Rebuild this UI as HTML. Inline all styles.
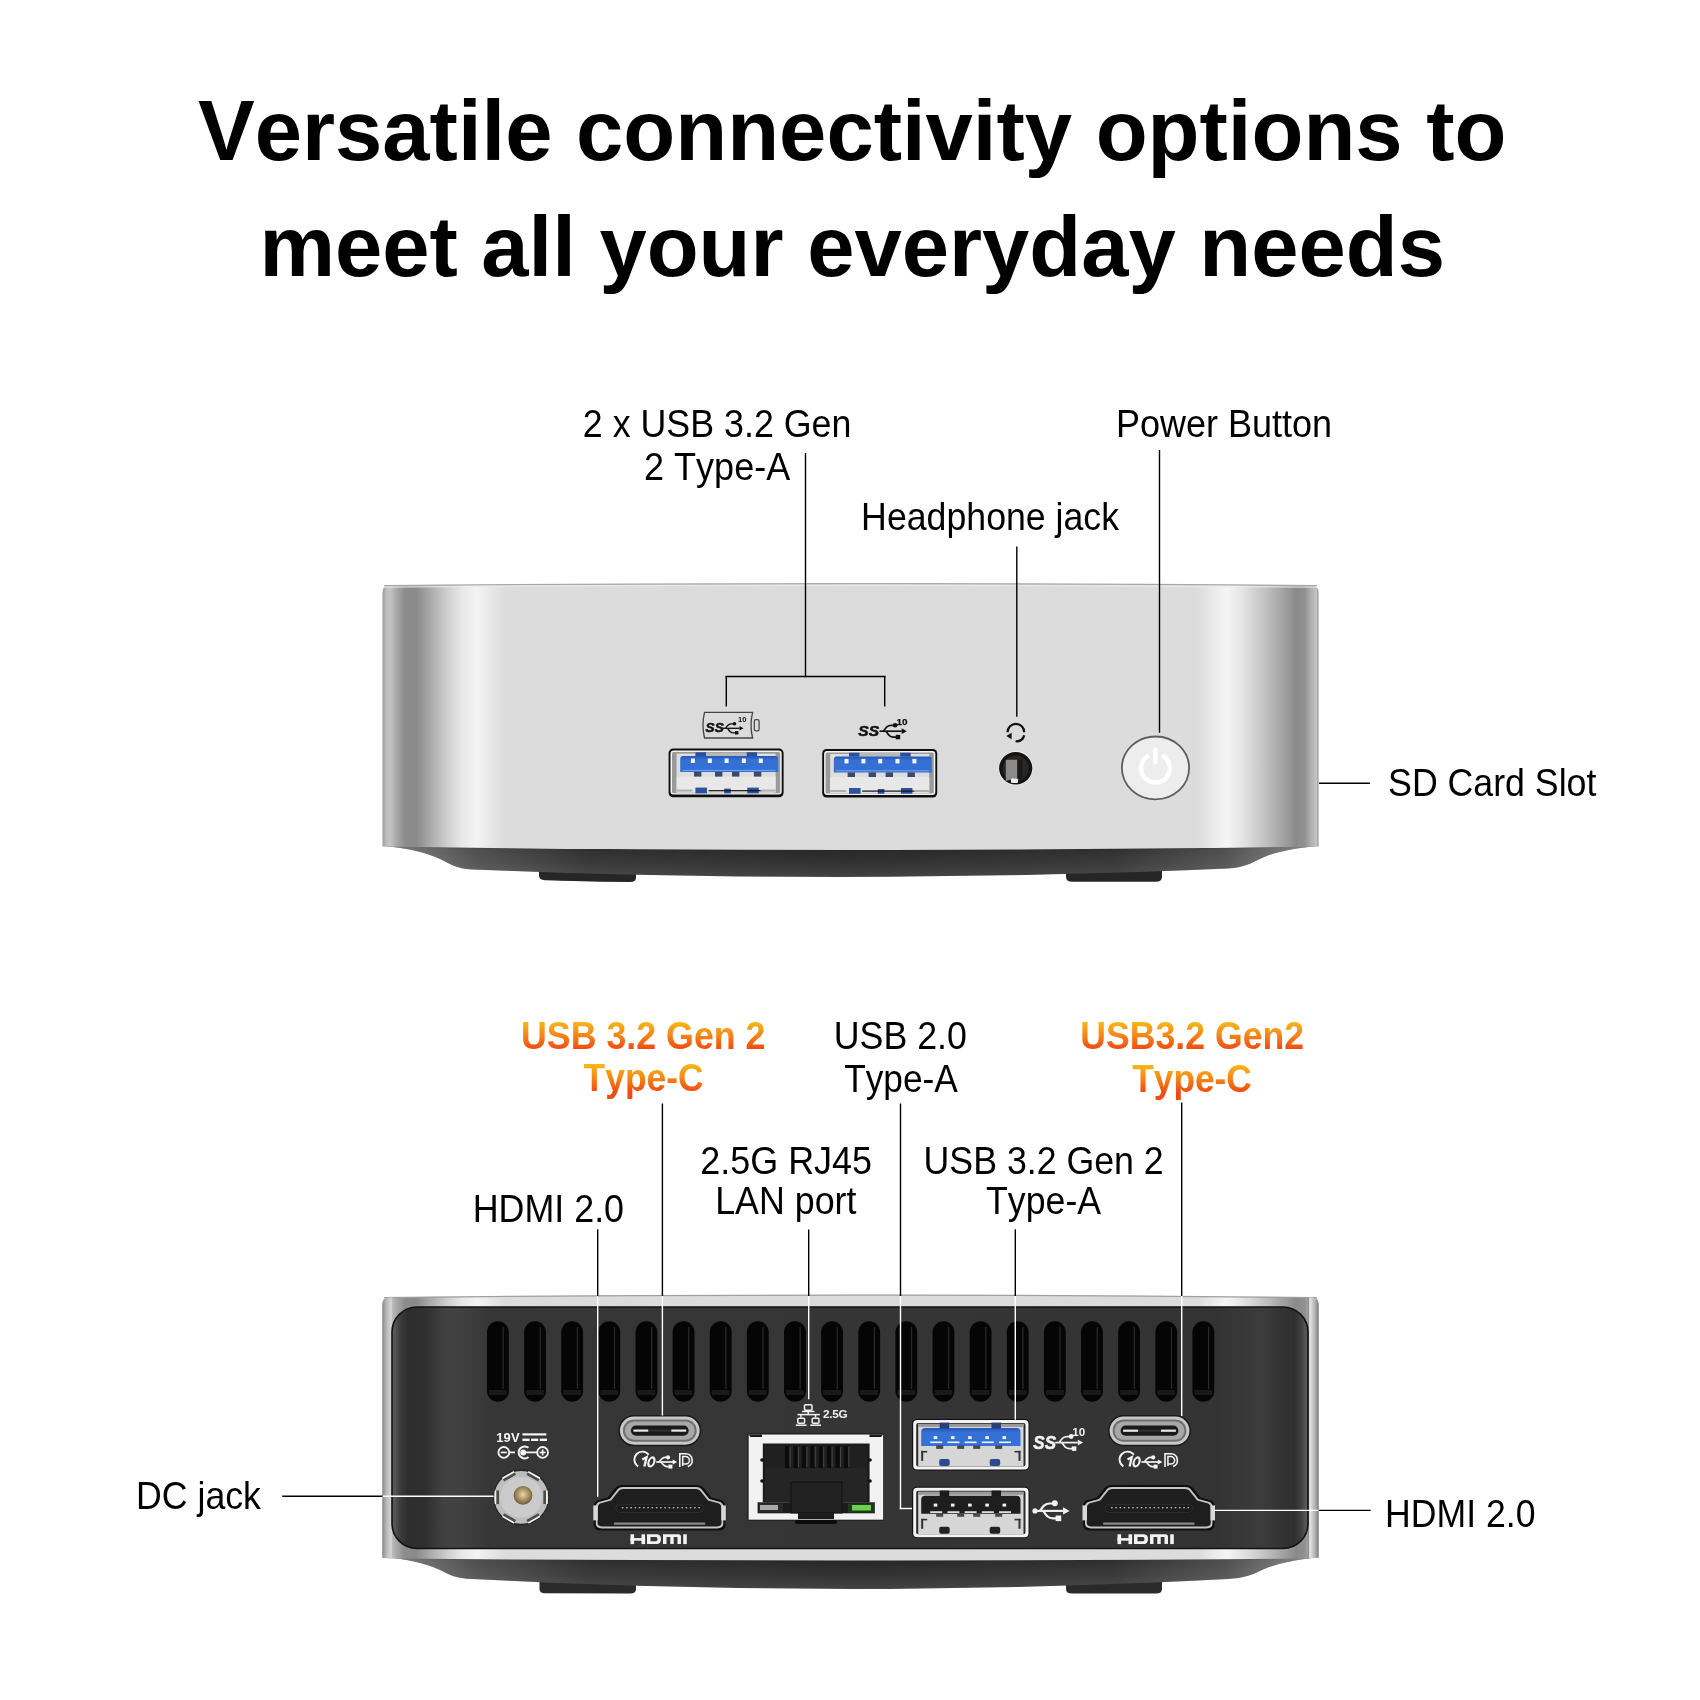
<!DOCTYPE html>
<html><head><meta charset="utf-8"><style>
html,body{margin:0;padding:0;background:#fff;width:1700px;height:1700px;overflow:hidden}
svg{position:absolute;left:0;top:0;will-change:transform;font-kerning:none;font-family:"Liberation Sans",sans-serif}
</style></head><body>
<svg width="1700" height="1700" viewBox="0 0 1700 1700">
<defs>
<linearGradient id="og0" gradientUnits="userSpaceOnUse" x1="0" y1="-24.77" x2="0" y2="0"><stop offset="0" stop-color="#f5b818"/><stop offset="0.5" stop-color="#f68416"/><stop offset="1" stop-color="#f04c12"/></linearGradient>
<linearGradient id="og1" gradientUnits="userSpaceOnUse" x1="0" y1="-24.77" x2="0" y2="0"><stop offset="0" stop-color="#f5b818"/><stop offset="0.5" stop-color="#f68416"/><stop offset="1" stop-color="#f04c12"/></linearGradient>
<linearGradient id="og2" gradientUnits="userSpaceOnUse" x1="0" y1="-24.77" x2="0" y2="0"><stop offset="0" stop-color="#f5b818"/><stop offset="0.5" stop-color="#f68416"/><stop offset="1" stop-color="#f04c12"/></linearGradient>
<linearGradient id="og3" gradientUnits="userSpaceOnUse" x1="0" y1="-24.77" x2="0" y2="0"><stop offset="0" stop-color="#f5b818"/><stop offset="0.5" stop-color="#f68416"/><stop offset="1" stop-color="#f04c12"/></linearGradient>
</defs>
<defs>
<linearGradient id="silverTop" gradientUnits="userSpaceOnUse" x1="382.5" y1="0" x2="1318.5" y2="0">
 <stop offset="0" stop-color="#9c9c9c"/>
 <stop offset="0.004" stop-color="#bcbcbc"/>
 <stop offset="0.008" stop-color="#c4c4c4"/>
 <stop offset="0.015" stop-color="#a8a8a8"/>
 <stop offset="0.024" stop-color="#8c8c8c"/>
 <stop offset="0.036" stop-color="#8a8a8a"/>
 <stop offset="0.049" stop-color="#a6a6a6"/>
 <stop offset="0.07" stop-color="#d0d0d0"/>
 <stop offset="0.085" stop-color="#e8e8e8"/>
 <stop offset="0.101" stop-color="#f3f3f3"/>
 <stop offset="0.115" stop-color="#e8e8e8"/>
 <stop offset="0.131" stop-color="#dcdcdc"/>
 <stop offset="0.5" stop-color="#dbdbdb"/>
 <stop offset="0.871" stop-color="#dcdcdc"/>
 <stop offset="0.888" stop-color="#eaeaea"/>
 <stop offset="0.902" stop-color="#f5f5f5"/>
 <stop offset="0.920" stop-color="#e2e2e2"/>
 <stop offset="0.944" stop-color="#c0c0c0"/>
 <stop offset="0.967" stop-color="#9a9a9a"/>
 <stop offset="0.976" stop-color="#8a8a8a"/>
 <stop offset="0.985" stop-color="#909090"/>
 <stop offset="0.992" stop-color="#b0b0b0"/>
 <stop offset="0.998" stop-color="#c4c4c4"/>
 <stop offset="1" stop-color="#8a8a8a"/>
</linearGradient>
<linearGradient id="baseG" x1="0" y1="0" x2="0" y2="1">
 <stop offset="0" stop-color="#1a1a1a"/>
 <stop offset="0.15" stop-color="#242424"/>
 <stop offset="0.55" stop-color="#2e2e2e"/>
 <stop offset="0.9" stop-color="#3a3a3a"/>
 <stop offset="1" stop-color="#404040"/>
</linearGradient>
<linearGradient id="baseH" gradientUnits="userSpaceOnUse" x1="382.5" y1="0" x2="1318.5" y2="0">
 <stop offset="0" stop-color="#fff" stop-opacity="0.45"/>
 <stop offset="0.1" stop-color="#fff" stop-opacity="0.2"/>
 <stop offset="0.22" stop-color="#fff" stop-opacity="0.06"/>
 <stop offset="0.5" stop-color="#fff" stop-opacity="0.02"/>
 <stop offset="0.78" stop-color="#fff" stop-opacity="0.06"/>
 <stop offset="0.9" stop-color="#fff" stop-opacity="0.2"/>
 <stop offset="1" stop-color="#fff" stop-opacity="0.5"/>
</linearGradient>
<linearGradient id="panelG" gradientUnits="userSpaceOnUse" x1="392" y1="0" x2="1308" y2="0">
 <stop offset="0.0000" stop-color="#5a5a5a"/>
 <stop offset="0.0033" stop-color="#555555"/>
 <stop offset="0.0087" stop-color="#3c3c3c"/>
 <stop offset="0.0175" stop-color="#2d2d2d"/>
 <stop offset="0.0360" stop-color="#2f2f2f"/>
 <stop offset="0.0579" stop-color="#424242"/>
 <stop offset="0.0797" stop-color="#404040"/>
 <stop offset="0.1070" stop-color="#363636"/>
 <stop offset="0.5000" stop-color="#353535"/>
 <stop offset="0.8996" stop-color="#333333"/>
 <stop offset="0.9498" stop-color="#3c3c3c"/>
 <stop offset="0.9716" stop-color="#333333"/>
 <stop offset="0.9847" stop-color="#2f2f2f"/>
 <stop offset="0.9913" stop-color="#3c3c3c"/>
 <stop offset="0.9989" stop-color="#5c5c5c"/>
 <stop offset="1.0000" stop-color="#444444"/>
</linearGradient>
<linearGradient id="sideL" x1="0" y1="0" x2="1" y2="0">
 <stop offset="0" stop-color="#808080"/><stop offset="0.12" stop-color="#9a9a9a"/><stop offset="0.37" stop-color="#b4b4b4"/><stop offset="0.6" stop-color="#c6c6c6"/><stop offset="0.9" stop-color="#d4d4d4"/><stop offset="1" stop-color="#c4c4c4"/>
</linearGradient>
<linearGradient id="sideR" x1="0" y1="0" x2="1" y2="0">
 <stop offset="0" stop-color="#5a5a5a"/><stop offset="0.12" stop-color="#d8d8d8"/><stop offset="0.2" stop-color="#e4e4e4"/><stop offset="0.45" stop-color="#c8c8c8"/><stop offset="0.75" stop-color="#a8a8a8"/><stop offset="0.92" stop-color="#888888"/><stop offset="1" stop-color="#7a7a7a"/>
</linearGradient>
<linearGradient id="silverBot" gradientUnits="userSpaceOnUse" x1="382.5" y1="0" x2="1318.5" y2="0">
 <stop offset="0" stop-color="#8c8c8c"/>
 <stop offset="0.003" stop-color="#b8b8b8"/>
 <stop offset="0.008" stop-color="#cfcfcf"/>
 <stop offset="0.03" stop-color="#bdbdbd"/>
 <stop offset="0.06" stop-color="#d8d8d8"/>
 <stop offset="0.1" stop-color="#c4c4c4"/>
 <stop offset="0.2" stop-color="#d6d6d6"/>
 <stop offset="0.3" stop-color="#e2e2e2"/>
 <stop offset="0.5" stop-color="#e6e6e6"/>
 <stop offset="0.7" stop-color="#e0e0e0"/>
 <stop offset="0.85" stop-color="#d8d8d8"/>
 <stop offset="0.93" stop-color="#c8c8c8"/>
 <stop offset="0.97" stop-color="#d0d0d0"/>
 <stop offset="0.993" stop-color="#b8b8b8"/>
 <stop offset="1" stop-color="#8a8a8a"/>
</linearGradient>
<linearGradient id="blueT" x1="0" y1="0" x2="0" y2="1">
 <stop offset="0" stop-color="#2656b8"/>
 <stop offset="0.25" stop-color="#3570d4"/>
 <stop offset="1" stop-color="#3470d6"/>
</linearGradient>
<radialGradient id="btnG" cx="0.5" cy="0.5" r="0.5">
 <stop offset="0" stop-color="#ececec"/>
 <stop offset="1" stop-color="#f0f0f0"/>
</radialGradient>
<radialGradient id="goldG" cx="0.5" cy="0.45" r="0.55">
 <stop offset="0" stop-color="#e8d8a8"/>
 <stop offset="0.5" stop-color="#b09868"/>
 <stop offset="1" stop-color="#6a5a3a"/>
</radialGradient>
</defs>
<path d="M539,862 L636,862 L636,877.5 Q636,882 630,882 L600,881.8 Q560,880.6 545,880.2 Q539,880 539,875.5 Z" fill="#262626"/>
<path d="M1066,862 L1162,862 L1162,876.5 Q1162,881.8 1156,881.8 L1072,881.8 Q1066,881.8 1066,876.5 Z" fill="#262626"/>
<path d="M383,846 C405,847.5 425,852 440,859 C450,864 456,868.5 472,869.5 Q850,885 1228,868.5 C1244,867.5 1252,863 1262,858 C1277,851 1297,848 1318,846 Z" fill="url(#baseG)"/>
<path d="M383,846 C405,847.5 425,852 440,859 C450,864 456,868.5 472,869.5 Q850,885 1228,868.5 C1244,867.5 1252,863 1262,858 C1277,851 1297,848 1318,846 Z" fill="url(#baseH)"/>
<path d="M382.5,846.5 L382.5,592 Q382.5,585.5 389,585.3 Q850,581.5 1312,585.3 Q1318.5,585.5 1318.5,592 L1318.5,846.5 Q850,853.5 382.5,846.5 Z" fill="url(#silverTop)"/>
<path d="M384,585.6 Q850,581.8 1317,585.6" fill="none" stroke="#a8a8a8" stroke-width="1.2"/>
<path d="M384,587.2 Q850,583.4 1317,587.2" fill="none" stroke="#ececec" stroke-width="1.2" opacity="0.8"/>
<rect x="668.6" y="748.6" width="115" height="48.6" rx="4.5" fill="#0e0e0e"/>
<rect x="670.5" y="750.5" width="111.2" height="44.0" rx="3" fill="#f4f4f4"/>
<rect x="672.0" y="752.0" width="108.2" height="41.2" rx="1.5" fill="#9a9a9a"/>
<rect x="676.6" y="753.6" width="99" height="39.1" fill="#dedede"/>
<rect x="676.6" y="776.6" width="99" height="15.600000000000001" fill="#e8e8e8"/>
<rect x="695.4" y="752.3000000000001" width="10.6" height="4" fill="#2c4f9a"/>
<rect x="746.5" y="752.3000000000001" width="10.6" height="4" fill="#2c4f9a"/>
<rect x="706.0" y="752.6" width="40.5" height="3.5" fill="#b8b8b8"/>
<path d="M680.2,772.0 L680.2,759.0 Q680.2,756.0 683.2,756.0 L775.2,756.0 Q778.2,756.0 778.2,759.0 L778.2,772.0 Z" fill="url(#blueT)"/>
<rect x="690.9" y="758.5" width="4" height="4.5" fill="#f4f8ff"/>
<rect x="707.8000000000001" y="758.5" width="4" height="4.5" fill="#f4f8ff"/>
<rect x="724.6" y="758.5" width="4" height="4.5" fill="#f4f8ff"/>
<rect x="741.9" y="758.5" width="4" height="4.5" fill="#f4f8ff"/>
<rect x="758.8000000000001" y="758.5" width="4" height="4.5" fill="#f4f8ff"/>
<rect x="682.6" y="769.9" width="93" height="1" fill="#8fb0ec" opacity="0.8"/>
<rect x="694.0" y="772.0" width="7.4" height="4.6" fill="#3a4a68"/>
<rect x="715.0" y="772.0" width="7.4" height="4.6" fill="#3a4a68"/>
<rect x="732.0" y="772.0" width="7.4" height="4.6" fill="#3a4a68"/>
<rect x="753.9" y="772.0" width="7.4" height="4.6" fill="#3a4a68"/>
<rect x="695.4" y="787.6" width="11.6" height="5.8" fill="#3050a0"/>
<rect x="724.2" y="788.6" width="6.6" height="4.8" fill="#3050a0"/>
<rect x="747.3000000000001" y="787.6" width="11.5" height="5.8" fill="#3050a0"/>
<rect x="708.6" y="790.1" width="53" height="1.2" fill="#111"/>
<rect x="676.6" y="789.6" width="16" height="2" fill="#b0b0b0"/>
<rect x="760.6" y="789.6" width="15" height="2" fill="#b0b0b0"/>
<rect x="822.2" y="749.0" width="115" height="48.6" rx="4.5" fill="#0e0e0e"/>
<rect x="824.1" y="750.9" width="111.2" height="44.0" rx="3" fill="#f4f4f4"/>
<rect x="825.6" y="752.4" width="108.2" height="41.2" rx="1.5" fill="#9a9a9a"/>
<rect x="830.2" y="754.0" width="99" height="39.1" fill="#dedede"/>
<rect x="830.2" y="777.0" width="99" height="15.600000000000001" fill="#e8e8e8"/>
<rect x="849.0" y="752.7" width="10.6" height="4" fill="#2c4f9a"/>
<rect x="900.1" y="752.7" width="10.6" height="4" fill="#2c4f9a"/>
<rect x="859.6" y="753.0" width="40.5" height="3.5" fill="#b8b8b8"/>
<path d="M833.8000000000001,772.4 L833.8000000000001,759.4 Q833.8000000000001,756.4 836.8000000000001,756.4 L928.8000000000001,756.4 Q931.8000000000001,756.4 931.8000000000001,759.4 L931.8000000000001,772.4 Z" fill="url(#blueT)"/>
<rect x="844.5" y="758.9" width="4" height="4.5" fill="#f4f8ff"/>
<rect x="861.4000000000001" y="758.9" width="4" height="4.5" fill="#f4f8ff"/>
<rect x="878.2" y="758.9" width="4" height="4.5" fill="#f4f8ff"/>
<rect x="895.5" y="758.9" width="4" height="4.5" fill="#f4f8ff"/>
<rect x="912.4000000000001" y="758.9" width="4" height="4.5" fill="#f4f8ff"/>
<rect x="836.2" y="770.3" width="93" height="1" fill="#8fb0ec" opacity="0.8"/>
<rect x="847.6" y="772.4" width="7.4" height="4.6" fill="#3a4a68"/>
<rect x="868.6" y="772.4" width="7.4" height="4.6" fill="#3a4a68"/>
<rect x="885.6" y="772.4" width="7.4" height="4.6" fill="#3a4a68"/>
<rect x="907.5" y="772.4" width="7.4" height="4.6" fill="#3a4a68"/>
<rect x="849.0" y="788.0" width="11.6" height="5.8" fill="#3050a0"/>
<rect x="877.8000000000001" y="789.0" width="6.6" height="4.8" fill="#3050a0"/>
<rect x="900.9000000000001" y="788.0" width="11.5" height="5.8" fill="#3050a0"/>
<rect x="862.2" y="790.5" width="53" height="1.2" fill="#111"/>
<rect x="830.2" y="790.0" width="16" height="2" fill="#b0b0b0"/>
<rect x="914.2" y="790.0" width="15" height="2" fill="#b0b0b0"/>
<path d="M704.5,712.3 L752.6,712.3 Q749.5,725 752.6,738 L704.5,738 Q701.5,725 704.5,712.3 Z" fill="none" stroke="#444" stroke-width="1.3"/>
<rect x="754.3" y="719.6" width="4.8" height="11.2" rx="1.6" fill="none" stroke="#444" stroke-width="1.2"/>
<text transform="translate(705.6,732.4) scale(1.02,1)" font-size="13.3" font-weight="bold" font-style="italic" fill="#111" stroke="#111" stroke-width="0.55">SS</text>
<g transform="translate(722.5,728.3) scale(1.0)" fill="#111" stroke="#111"><path d="M0,0 L17,0" stroke-width="1.3" fill="none"/><path d="M17,-2.2 L21,0 L17,2.2 Z" stroke="none"/><path d="M3,0 C5,-3 6,-4.5 9,-4.5 L11,-4.5" stroke-width="1.3" fill="none"/><circle cx="12" cy="-4.6" r="1.8" stroke="none"/><path d="M5,0 C7,3 8,4.5 11,4.5 L13,4.5" stroke-width="1.3" fill="none"/><rect x="12.5" y="2.8" width="3.4" height="3.4" stroke="none"/></g>
<text x="738" y="722.4" font-size="7.6" font-weight="bold" fill="#111">10</text>
<text transform="translate(858.3,736.1) scale(1.08,1)" font-size="14.4" font-weight="bold" font-style="italic" fill="#111" stroke="#111" stroke-width="0.55">SS</text>
<g transform="translate(879.5,731.2) scale(1.3)" fill="#111" stroke="#111"><path d="M0,0 L17,0" stroke-width="1.3" fill="none"/><path d="M17,-2.2 L21,0 L17,2.2 Z" stroke="none"/><path d="M3,0 C5,-3 6,-4.5 9,-4.5 L11,-4.5" stroke-width="1.3" fill="none"/><circle cx="12" cy="-4.6" r="1.8" stroke="none"/><path d="M5,0 C7,3 8,4.5 11,4.5 L13,4.5" stroke-width="1.3" fill="none"/><rect x="12.5" y="2.8" width="3.4" height="3.4" stroke="none"/></g>
<text x="896.4" y="725.1" font-size="9.9" font-weight="bold" fill="#111" stroke="#111" stroke-width="0.25">10</text>
<circle cx="1015.7" cy="768.2" r="17.4" fill="#f2f2f2" opacity="0.6"/>
<ellipse cx="1015.7" cy="768.2" rx="16.6" ry="16.2" fill="#141414"/>
<ellipse cx="1015.7" cy="768.2" rx="13" ry="12.8" fill="#2a2620"/>
<path d="M1005.8,759.8 L1017.4,759.8 L1017.4,778 L1005.8,781 Z" fill="#8a8a8a"/>
<rect x="1017.4" y="759.8" width="5" height="19" fill="#1a1a1a"/>
<rect x="1011" y="778.5" width="7" height="4.5" rx="1" fill="#f0f0f0"/>
<path d="M1007.6,732.2 A8.3,8.3 0 0 1 1024.2,732.2" fill="none" stroke="#111" stroke-width="2.2"/>
<path d="M1024.2,735.2 A7.4,7.4 0 0 1 1015.6,741.2" fill="none" stroke="#111" stroke-width="2.2"/>
<path d="M1006.3,736 L1011.6,732.8 L1011.6,739.2 Z" fill="#111"/>
<ellipse cx="1155.5" cy="767.9" rx="33.6" ry="31.4" fill="#ededed" stroke="#5e5e5e" stroke-width="1.8"/>
<path d="M1147.2,756.4 A14.4,14.4 0 1 0 1163.8,756.4" fill="none" stroke="#fff" stroke-width="4.4" stroke-linecap="round"/>
<line x1="1155.3" y1="749.4" x2="1155.3" y2="762.4" stroke="#fff" stroke-width="4.4" stroke-linecap="round"/>
<line x1="805.5" y1="453" x2="805.5" y2="677.3" stroke="#000" stroke-width="1.4"/>
<line x1="725.5" y1="676.5" x2="885.5" y2="676.5" stroke="#000" stroke-width="1.4"/>
<line x1="726.3" y1="676" x2="726.3" y2="706.6" stroke="#000" stroke-width="1.4"/>
<line x1="884.7" y1="676" x2="884.7" y2="706.6" stroke="#000" stroke-width="1.4"/>
<line x1="1016.8" y1="546.5" x2="1016.8" y2="716.8" stroke="#000" stroke-width="1.4"/>
<line x1="1159.5" y1="450" x2="1159.5" y2="732.7" stroke="#000" stroke-width="1.4"/>
<line x1="1319" y1="783.3" x2="1370" y2="783.3" stroke="#000" stroke-width="1.4"/>
<path d="M539.5,1575 L636,1575 L636,1589 Q636,1593.5 630,1593.5 L545,1593.3 Q539.5,1593.2 539.5,1589 Z" fill="#2a2a2a"/>
<path d="M1066,1575 L1162,1575 L1162,1589 Q1162,1593.5 1156,1593.5 L1072,1593.5 Q1066,1593.5 1066,1589 Z" fill="#2a2a2a"/>
<path d="M383,1557 C405,1558.5 425,1563 440,1570 C450,1575 456,1578.5 472,1579 Q850,1599 1228,1579 C1244,1578 1252,1575 1262,1570 C1277,1563 1297,1560 1318,1557 Z" fill="url(#baseG)"/>
<path d="M383,1557 C405,1558.5 425,1563 440,1570 C450,1575 456,1578.5 472,1579 Q850,1599 1228,1579 C1244,1578 1252,1575 1262,1570 C1277,1563 1297,1560 1318,1557 Z" fill="url(#baseH)"/>
<path d="M382.5,1558 L382.5,1304 Q382.5,1297.6 389,1297.2 Q850,1292.4 1312,1297.2 Q1318.5,1297.6 1318.5,1304 L1318.5,1557.7 Q1312,1558 1305,1558.5 Q850,1562.5 390,1558.5 Q385,1558.3 382.5,1558 Z" fill="url(#silverTop)"/>
<path d="M384,1297.6 Q850,1292.8 1317,1297.6" fill="none" stroke="#a0a0a0" stroke-width="1.2"/>
<path d="M382.5,1557.5 L382.5,1304 Q382.5,1297.8 388.5,1297.5 L392.3,1297.4 L392.3,1558.5 Z" fill="url(#sideL)"/>
<path d="M1308,1297.4 L1312,1297.4 Q1318.5,1297.8 1318.5,1304 L1318.5,1557.5 L1308,1558.5 Z" fill="url(#sideR)"/>
<rect x="392" y="1307" width="916" height="241.5" rx="25" fill="url(#panelG)" stroke="#121212" stroke-width="1.6"/>
<rect x="487.00" y="1321.3" width="21.8" height="80.5" rx="10.9" fill="#050505"/>
<rect x="502.50" y="1327" width="1.2" height="62" fill="#3a3a3a" opacity="0.7"/>
<rect x="489.00" y="1390" width="17.8" height="5" fill="#1e1e1e" opacity="0.8"/>
<rect x="524.13" y="1321.3" width="21.8" height="80.5" rx="10.9" fill="#050505"/>
<rect x="539.63" y="1327" width="1.2" height="62" fill="#3a3a3a" opacity="0.7"/>
<rect x="526.13" y="1390" width="17.8" height="5" fill="#1e1e1e" opacity="0.8"/>
<rect x="561.26" y="1321.3" width="21.8" height="80.5" rx="10.9" fill="#050505"/>
<rect x="576.76" y="1327" width="1.2" height="62" fill="#3a3a3a" opacity="0.7"/>
<rect x="563.26" y="1390" width="17.8" height="5" fill="#1e1e1e" opacity="0.8"/>
<rect x="598.39" y="1321.3" width="21.8" height="80.5" rx="10.9" fill="#050505"/>
<rect x="613.89" y="1327" width="1.2" height="62" fill="#3a3a3a" opacity="0.7"/>
<rect x="600.39" y="1390" width="17.8" height="5" fill="#1e1e1e" opacity="0.8"/>
<rect x="635.52" y="1321.3" width="21.8" height="80.5" rx="10.9" fill="#050505"/>
<rect x="651.02" y="1327" width="1.2" height="62" fill="#3a3a3a" opacity="0.7"/>
<rect x="637.52" y="1390" width="17.8" height="5" fill="#1e1e1e" opacity="0.8"/>
<rect x="672.65" y="1321.3" width="21.8" height="80.5" rx="10.9" fill="#050505"/>
<rect x="688.15" y="1327" width="1.2" height="62" fill="#3a3a3a" opacity="0.7"/>
<rect x="674.65" y="1390" width="17.8" height="5" fill="#1e1e1e" opacity="0.8"/>
<rect x="709.78" y="1321.3" width="21.8" height="80.5" rx="10.9" fill="#050505"/>
<rect x="725.28" y="1327" width="1.2" height="62" fill="#3a3a3a" opacity="0.7"/>
<rect x="711.78" y="1390" width="17.8" height="5" fill="#1e1e1e" opacity="0.8"/>
<rect x="746.91" y="1321.3" width="21.8" height="80.5" rx="10.9" fill="#050505"/>
<rect x="762.41" y="1327" width="1.2" height="62" fill="#3a3a3a" opacity="0.7"/>
<rect x="748.91" y="1390" width="17.8" height="5" fill="#1e1e1e" opacity="0.8"/>
<rect x="784.04" y="1321.3" width="21.8" height="80.5" rx="10.9" fill="#050505"/>
<rect x="799.54" y="1327" width="1.2" height="62" fill="#3a3a3a" opacity="0.7"/>
<rect x="786.04" y="1390" width="17.8" height="5" fill="#1e1e1e" opacity="0.8"/>
<rect x="821.17" y="1321.3" width="21.8" height="80.5" rx="10.9" fill="#050505"/>
<rect x="836.67" y="1327" width="1.2" height="62" fill="#3a3a3a" opacity="0.7"/>
<rect x="823.17" y="1390" width="17.8" height="5" fill="#1e1e1e" opacity="0.8"/>
<rect x="858.30" y="1321.3" width="21.8" height="80.5" rx="10.9" fill="#050505"/>
<rect x="873.80" y="1327" width="1.2" height="62" fill="#3a3a3a" opacity="0.7"/>
<rect x="860.30" y="1390" width="17.8" height="5" fill="#1e1e1e" opacity="0.8"/>
<rect x="895.43" y="1321.3" width="21.8" height="80.5" rx="10.9" fill="#050505"/>
<rect x="910.93" y="1327" width="1.2" height="62" fill="#3a3a3a" opacity="0.7"/>
<rect x="897.43" y="1390" width="17.8" height="5" fill="#1e1e1e" opacity="0.8"/>
<rect x="932.56" y="1321.3" width="21.8" height="80.5" rx="10.9" fill="#050505"/>
<rect x="948.06" y="1327" width="1.2" height="62" fill="#3a3a3a" opacity="0.7"/>
<rect x="934.56" y="1390" width="17.8" height="5" fill="#1e1e1e" opacity="0.8"/>
<rect x="969.69" y="1321.3" width="21.8" height="80.5" rx="10.9" fill="#050505"/>
<rect x="985.19" y="1327" width="1.2" height="62" fill="#3a3a3a" opacity="0.7"/>
<rect x="971.69" y="1390" width="17.8" height="5" fill="#1e1e1e" opacity="0.8"/>
<rect x="1006.82" y="1321.3" width="21.8" height="80.5" rx="10.9" fill="#050505"/>
<rect x="1022.32" y="1327" width="1.2" height="62" fill="#3a3a3a" opacity="0.7"/>
<rect x="1008.82" y="1390" width="17.8" height="5" fill="#1e1e1e" opacity="0.8"/>
<rect x="1043.95" y="1321.3" width="21.8" height="80.5" rx="10.9" fill="#050505"/>
<rect x="1059.45" y="1327" width="1.2" height="62" fill="#3a3a3a" opacity="0.7"/>
<rect x="1045.95" y="1390" width="17.8" height="5" fill="#1e1e1e" opacity="0.8"/>
<rect x="1081.08" y="1321.3" width="21.8" height="80.5" rx="10.9" fill="#050505"/>
<rect x="1096.58" y="1327" width="1.2" height="62" fill="#3a3a3a" opacity="0.7"/>
<rect x="1083.08" y="1390" width="17.8" height="5" fill="#1e1e1e" opacity="0.8"/>
<rect x="1118.21" y="1321.3" width="21.8" height="80.5" rx="10.9" fill="#050505"/>
<rect x="1133.71" y="1327" width="1.2" height="62" fill="#3a3a3a" opacity="0.7"/>
<rect x="1120.21" y="1390" width="17.8" height="5" fill="#1e1e1e" opacity="0.8"/>
<rect x="1155.34" y="1321.3" width="21.8" height="80.5" rx="10.9" fill="#050505"/>
<rect x="1170.84" y="1327" width="1.2" height="62" fill="#3a3a3a" opacity="0.7"/>
<rect x="1157.34" y="1390" width="17.8" height="5" fill="#1e1e1e" opacity="0.8"/>
<rect x="1192.47" y="1321.3" width="21.8" height="80.5" rx="10.9" fill="#050505"/>
<rect x="1207.97" y="1327" width="1.2" height="62" fill="#3a3a3a" opacity="0.7"/>
<rect x="1194.47" y="1390" width="17.8" height="5" fill="#1e1e1e" opacity="0.8"/>
<text x="496.2" y="1442.3" font-size="13" font-weight="bold" fill="#f4f4f4" letter-spacing="0.2">19V</text>
<rect x="522.4" y="1433.3" width="23.9" height="2.2" fill="#f4f4f4"/>
<rect x="522.4" y="1438.6" width="7.2" height="2.4" fill="#f4f4f4"/>
<rect x="531.1" y="1438.6" width="7.2" height="2.4" fill="#f4f4f4"/>
<rect x="539.8" y="1438.6" width="7.2" height="2.4" fill="#f4f4f4"/>
<circle cx="503.8" cy="1452.4" r="5.4" fill="none" stroke="#f4f4f4" stroke-width="1.8"/>
<rect x="500.8" y="1451.6" width="6" height="1.7" fill="#f4f4f4"/>
<line x1="509.2" y1="1452.4" x2="515" y2="1452.4" stroke="#f4f4f4" stroke-width="1.8"/>
<path d="M528.5,1447.8 A6,6 0 1 0 528.5,1457" fill="none" stroke="#f4f4f4" stroke-width="2"/>
<circle cx="523.2" cy="1452.4" r="3" fill="#f4f4f4"/>
<line x1="526" y1="1452.4" x2="537" y2="1452.4" stroke="#f4f4f4" stroke-width="1.8"/>
<circle cx="542.6" cy="1452.4" r="5.4" fill="none" stroke="#f4f4f4" stroke-width="1.8"/>
<rect x="539.6" y="1451.6" width="6" height="1.7" fill="#f4f4f4"/>
<rect x="541.75" y="1449.4" width="1.7" height="6" fill="#f4f4f4"/>
<circle cx="521.2" cy="1497.3" r="28" fill="#262626"/>
<ellipse cx="521.2" cy="1497.3" rx="27" ry="26.4" fill="#bdbdbd"/>
<ellipse cx="521.2" cy="1497.3" rx="21" ry="20.5" fill="#cbcbcb"/>
<g transform="translate(521.2,1497.3) rotate(30)"><rect x="-6.8" y="-26.6" width="13.6" height="1.8" rx="0.6" fill="#f2f2f2"/><rect x="-6.8" y="-24.8" width="13.6" height="2.6" fill="#4e4a44"/></g>
<g transform="translate(521.2,1497.3) rotate(90)"><rect x="-6.8" y="-26.6" width="13.6" height="1.8" rx="0.6" fill="#f2f2f2"/><rect x="-6.8" y="-24.8" width="13.6" height="2.6" fill="#4e4a44"/></g>
<g transform="translate(521.2,1497.3) rotate(150)"><rect x="-6.8" y="-26.6" width="13.6" height="1.8" rx="0.6" fill="#f2f2f2"/><rect x="-6.8" y="-24.8" width="13.6" height="2.6" fill="#4e4a44"/></g>
<g transform="translate(521.2,1497.3) rotate(210)"><rect x="-6.8" y="-26.6" width="13.6" height="1.8" rx="0.6" fill="#f2f2f2"/><rect x="-6.8" y="-24.8" width="13.6" height="2.6" fill="#4e4a44"/></g>
<g transform="translate(521.2,1497.3) rotate(270)"><rect x="-6.8" y="-26.6" width="13.6" height="1.8" rx="0.6" fill="#f2f2f2"/><rect x="-6.8" y="-24.8" width="13.6" height="2.6" fill="#4e4a44"/></g>
<g transform="translate(521.2,1497.3) rotate(330)"><rect x="-6.8" y="-26.6" width="13.6" height="1.8" rx="0.6" fill="#f2f2f2"/><rect x="-6.8" y="-24.8" width="13.6" height="2.6" fill="#4e4a44"/></g>
<circle cx="523" cy="1495.4" r="9.4" fill="url(#goldG)"/>
<rect x="618.4" y="1415.0" width="82.8" height="31.2" rx="15.6" fill="#1a1a1a"/>
<rect x="619.9" y="1416.5" width="79.8" height="28.2" rx="14.1" fill="#c8c8c8"/>
<rect x="622.9" y="1419.5" width="73.8" height="22.2" rx="11.1" fill="#707070"/>
<rect x="624.9" y="1421.5" width="69.8" height="18.2" rx="9.1" fill="#a8a8a8"/>
<rect x="630.9" y="1425.5" width="57.8" height="10.2" rx="5.1" fill="#1a1a1a"/>
<rect x="633.4" y="1429.5" width="15" height="2.2" fill="#e8e8e8"/>
<rect x="671.1999999999999" y="1429.5" width="15" height="2.2" fill="#e8e8e8"/>
<rect x="648.4" y="1429.7" width="22.799999999999997" height="1.8" fill="#333"/>
<rect x="1108.1" y="1415.1" width="82.8" height="31.2" rx="15.6" fill="#1a1a1a"/>
<rect x="1109.6" y="1416.6" width="79.8" height="28.2" rx="14.1" fill="#c8c8c8"/>
<rect x="1112.6" y="1419.6" width="73.8" height="22.2" rx="11.1" fill="#707070"/>
<rect x="1114.6" y="1421.6" width="69.8" height="18.2" rx="9.1" fill="#a8a8a8"/>
<rect x="1120.6" y="1425.6" width="57.8" height="10.2" rx="5.1" fill="#1a1a1a"/>
<rect x="1123.1" y="1429.6" width="15" height="2.2" fill="#e8e8e8"/>
<rect x="1160.8999999999999" y="1429.6" width="15" height="2.2" fill="#e8e8e8"/>
<rect x="1138.1" y="1429.8" width="22.799999999999997" height="1.8" fill="#333"/>
<path d="M648.70,1454.67 A8.0,8.0 0 1 0 638.16,1466.38" fill="none" stroke="#f4f4f4" stroke-width="1.9"/>
<path d="M642.3,1459.4 L646.6,1457.2 L644.4,1466.6" fill="none" stroke="#f4f4f4" stroke-width="2.3" stroke-linejoin="miter"/>
<ellipse cx="0" cy="0" rx="2.9" ry="4.5" fill="none" stroke="#f4f4f4" stroke-width="2.1" transform="translate(651.4,1461.9) skewX(-14)"/>
<g transform="translate(656.2,1462.0) scale(1.0)" fill="#f4f4f4" stroke="#f4f4f4"><path d="M0,0 L17,0" stroke-width="1.7" fill="none"/><path d="M16.5,-2.6 L21,0 L16.5,2.6 Z" stroke="none"/><path d="M3,0 C5,-3 6,-4.6 9,-4.6 L10.5,-4.6" stroke-width="1.6" fill="none"/><circle cx="11.8" cy="-4.6" r="2.1" stroke="none"/><path d="M5,0 C7,3 8,4.6 11,4.6 L12.5,4.6" stroke-width="1.6" fill="none"/><rect x="12.2" y="2.6" width="4" height="4" stroke="none"/></g>
<path d="M679.8,1467.0 L679.8,1453.8 L685.8,1453.8 A6.6,6.6 0 0 1 687.8,1466.6" fill="none" stroke="#f4f4f4" stroke-width="1.6"/>
<path d="M682.6999999999999,1466.0 L682.6999999999999,1456.6 L685.5999999999999,1456.6 A3.9,3.7 0 0 1 685.5999999999999,1464.0 L683.3,1464.0" fill="none" stroke="#f4f4f4" stroke-width="1.5"/>
<path d="M1133.90,1454.67 A8.0,8.0 0 1 0 1123.36,1466.38" fill="none" stroke="#f4f4f4" stroke-width="1.9"/>
<path d="M1127.5,1459.4 L1131.8,1457.2 L1129.6000000000001,1466.6" fill="none" stroke="#f4f4f4" stroke-width="2.3" stroke-linejoin="miter"/>
<ellipse cx="0" cy="0" rx="2.9" ry="4.5" fill="none" stroke="#f4f4f4" stroke-width="2.1" transform="translate(1136.6000000000001,1461.9) skewX(-14)"/>
<g transform="translate(1141.4,1462.0) scale(1.0)" fill="#f4f4f4" stroke="#f4f4f4"><path d="M0,0 L17,0" stroke-width="1.7" fill="none"/><path d="M16.5,-2.6 L21,0 L16.5,2.6 Z" stroke="none"/><path d="M3,0 C5,-3 6,-4.6 9,-4.6 L10.5,-4.6" stroke-width="1.6" fill="none"/><circle cx="11.8" cy="-4.6" r="2.1" stroke="none"/><path d="M5,0 C7,3 8,4.6 11,4.6 L12.5,4.6" stroke-width="1.6" fill="none"/><rect x="12.2" y="2.6" width="4" height="4" stroke="none"/></g>
<path d="M1165.0,1467.0 L1165.0,1453.8 L1171.0,1453.8 A6.6,6.6 0 0 1 1173.0,1466.6" fill="none" stroke="#f4f4f4" stroke-width="1.6"/>
<path d="M1167.9,1466.0 L1167.9,1456.6 L1170.8,1456.6 A3.9,3.7 0 0 1 1170.8,1464.0 L1168.5,1464.0" fill="none" stroke="#f4f4f4" stroke-width="1.5"/>
<path d="M596.8,1500.4 L607.8,1497.4 L615.8,1487.4 Q617.8,1484.9 621.8,1484.9 L697.3,1484.9 Q701.3,1484.9 703.3,1487.4 L711.3,1497.4 L722.3,1500.4 Q725.3,1502.4 725.3,1506.4 L725.3,1524.4 Q725.3,1530.4 718.3,1530.4 L600.8,1530.4 Q593.8,1530.4 593.8,1524.4 L593.8,1506.4 Q593.8,1502.4 596.8,1500.4 Z" fill="#0e0e0e"/>
<path d="M598.8,1501.9 L609.8,1498.9 L617.8,1488.9 Q619.3,1486.9 622.8,1486.9 L696.3,1486.9 Q699.8,1486.9 701.3,1488.9 L709.3,1498.9 L720.3,1501.9 Q723.3,1503.4 723.3,1506.4 L723.3,1523.4 Q723.3,1528.4 717.3,1528.4 L601.8,1528.4 Q595.8,1528.4 595.8,1523.4 L595.8,1506.4 Q595.8,1503.4 598.8,1501.9 Z" fill="#c4c4c4"/>
<path d="M600.0,1503.6000000000001 L611.0999999999999,1500.6000000000001 L619.0999999999999,1490.6000000000001 Q620.3,1488.9 623.3,1488.9 L695.8,1488.9 Q698.8,1488.9 700.0,1490.6000000000001 L708.0,1500.6000000000001 L719.0999999999999,1503.6000000000001 Q721.5,1504.9 721.5,1507.9 L721.5,1522.9 Q721.5,1526.4 716.8,1526.4 L602.3,1526.4 Q597.5999999999999,1526.4 597.5999999999999,1522.9 L597.5999999999999,1507.9 Q597.5999999999999,1504.9 600.0,1503.6000000000001 Z" fill="#1e1e1e"/>
<rect x="613.8" y="1522.6000000000001" width="91.5" height="2.2" rx="1" fill="#8a8a8a"/>
<rect x="615.8" y="1504.4" width="87.5" height="8" rx="4" fill="#1c1c1c" stroke="#3a3a3a" stroke-width="0.6"/>
<rect x="621.80" y="1507.0" width="1.6" height="1.4" fill="#b0b0b0"/>
<rect x="626.05" y="1507.0" width="1.6" height="1.4" fill="#b0b0b0"/>
<rect x="630.30" y="1507.0" width="1.6" height="1.4" fill="#b0b0b0"/>
<rect x="634.55" y="1507.0" width="1.6" height="1.4" fill="#b0b0b0"/>
<rect x="638.80" y="1507.0" width="1.6" height="1.4" fill="#b0b0b0"/>
<rect x="643.05" y="1507.0" width="1.6" height="1.4" fill="#b0b0b0"/>
<rect x="647.30" y="1507.0" width="1.6" height="1.4" fill="#b0b0b0"/>
<rect x="651.55" y="1507.0" width="1.6" height="1.4" fill="#b0b0b0"/>
<rect x="655.80" y="1507.0" width="1.6" height="1.4" fill="#b0b0b0"/>
<rect x="660.05" y="1507.0" width="1.6" height="1.4" fill="#b0b0b0"/>
<rect x="664.30" y="1507.0" width="1.6" height="1.4" fill="#b0b0b0"/>
<rect x="668.55" y="1507.0" width="1.6" height="1.4" fill="#b0b0b0"/>
<rect x="672.80" y="1507.0" width="1.6" height="1.4" fill="#b0b0b0"/>
<rect x="677.05" y="1507.0" width="1.6" height="1.4" fill="#b0b0b0"/>
<rect x="681.30" y="1507.0" width="1.6" height="1.4" fill="#b0b0b0"/>
<rect x="685.55" y="1507.0" width="1.6" height="1.4" fill="#b0b0b0"/>
<rect x="689.80" y="1507.0" width="1.6" height="1.4" fill="#b0b0b0"/>
<rect x="694.05" y="1507.0" width="1.6" height="1.4" fill="#b0b0b0"/>
<rect x="698.30" y="1507.0" width="1.6" height="1.4" fill="#b0b0b0"/>
<rect x="593.3" y="1505.4" width="4.5" height="15" fill="#d8d8d8"/>
<rect x="721.3" y="1505.4" width="4.5" height="15" fill="#d8d8d8"/>
<path d="M1086.0,1500.4 L1097.0,1497.4 L1105.0,1487.4 Q1107.0,1484.9 1111.0,1484.9 L1186.5,1484.9 Q1190.5,1484.9 1192.5,1487.4 L1200.5,1497.4 L1211.5,1500.4 Q1214.5,1502.4 1214.5,1506.4 L1214.5,1524.4 Q1214.5,1530.4 1207.5,1530.4 L1090.0,1530.4 Q1083.0,1530.4 1083.0,1524.4 L1083.0,1506.4 Q1083.0,1502.4 1086.0,1500.4 Z" fill="#0e0e0e"/>
<path d="M1088.0,1501.9 L1099.0,1498.9 L1107.0,1488.9 Q1108.5,1486.9 1112.0,1486.9 L1185.5,1486.9 Q1189.0,1486.9 1190.5,1488.9 L1198.5,1498.9 L1209.5,1501.9 Q1212.5,1503.4 1212.5,1506.4 L1212.5,1523.4 Q1212.5,1528.4 1206.5,1528.4 L1091.0,1528.4 Q1085.0,1528.4 1085.0,1523.4 L1085.0,1506.4 Q1085.0,1503.4 1088.0,1501.9 Z" fill="#c4c4c4"/>
<path d="M1089.2,1503.6000000000001 L1100.3,1500.6000000000001 L1108.3,1490.6000000000001 Q1109.5,1488.9 1112.5,1488.9 L1185.0,1488.9 Q1188.0,1488.9 1189.2,1490.6000000000001 L1197.2,1500.6000000000001 L1208.3,1503.6000000000001 Q1210.7,1504.9 1210.7,1507.9 L1210.7,1522.9 Q1210.7,1526.4 1206.0,1526.4 L1091.5,1526.4 Q1086.8,1526.4 1086.8,1522.9 L1086.8,1507.9 Q1086.8,1504.9 1089.2,1503.6000000000001 Z" fill="#1e1e1e"/>
<rect x="1103.0" y="1522.6000000000001" width="91.5" height="2.2" rx="1" fill="#8a8a8a"/>
<rect x="1105.0" y="1504.4" width="87.5" height="8" rx="4" fill="#1c1c1c" stroke="#3a3a3a" stroke-width="0.6"/>
<rect x="1111.00" y="1507.0" width="1.6" height="1.4" fill="#b0b0b0"/>
<rect x="1115.25" y="1507.0" width="1.6" height="1.4" fill="#b0b0b0"/>
<rect x="1119.50" y="1507.0" width="1.6" height="1.4" fill="#b0b0b0"/>
<rect x="1123.75" y="1507.0" width="1.6" height="1.4" fill="#b0b0b0"/>
<rect x="1128.00" y="1507.0" width="1.6" height="1.4" fill="#b0b0b0"/>
<rect x="1132.25" y="1507.0" width="1.6" height="1.4" fill="#b0b0b0"/>
<rect x="1136.50" y="1507.0" width="1.6" height="1.4" fill="#b0b0b0"/>
<rect x="1140.75" y="1507.0" width="1.6" height="1.4" fill="#b0b0b0"/>
<rect x="1145.00" y="1507.0" width="1.6" height="1.4" fill="#b0b0b0"/>
<rect x="1149.25" y="1507.0" width="1.6" height="1.4" fill="#b0b0b0"/>
<rect x="1153.50" y="1507.0" width="1.6" height="1.4" fill="#b0b0b0"/>
<rect x="1157.75" y="1507.0" width="1.6" height="1.4" fill="#b0b0b0"/>
<rect x="1162.00" y="1507.0" width="1.6" height="1.4" fill="#b0b0b0"/>
<rect x="1166.25" y="1507.0" width="1.6" height="1.4" fill="#b0b0b0"/>
<rect x="1170.50" y="1507.0" width="1.6" height="1.4" fill="#b0b0b0"/>
<rect x="1174.75" y="1507.0" width="1.6" height="1.4" fill="#b0b0b0"/>
<rect x="1179.00" y="1507.0" width="1.6" height="1.4" fill="#b0b0b0"/>
<rect x="1183.25" y="1507.0" width="1.6" height="1.4" fill="#b0b0b0"/>
<rect x="1187.50" y="1507.0" width="1.6" height="1.4" fill="#b0b0b0"/>
<rect x="1082.5" y="1505.4" width="4.5" height="15" fill="#d8d8d8"/>
<rect x="1210.5" y="1505.4" width="4.5" height="15" fill="#d8d8d8"/>
<g fill="#f2f2f2"><rect x="630.5" y="1534.3" width="3.6" height="9.8"/><rect x="641.5" y="1534.3" width="3.6" height="9.8"/><rect x="630.5" y="1538.1" width="14.6" height="2.6"/><path d="M647.0,1534.3 L656.5,1534.3 Q661.0,1534.3 661.0,1539.2 Q661.0,1544.1 656.5,1544.1 L647.0,1544.1 Z M650.5,1537.1 L650.5,1541.3 L656.0,1541.3 Q657.5,1541.3 657.5,1539.2 Q657.5,1537.1 656.0,1537.1 Z" fill-rule="evenodd"/><path d="M663.0,1544.1 L663.0,1534.3 L678.5,1534.3 Q681.0,1534.3 681.0,1536.8 L681.0,1544.1 L677.5,1544.1 L677.5,1537.1 L673.7,1537.1 L673.7,1544.1 L670.3,1544.1 L670.3,1537.1 L666.5,1537.1 L666.5,1544.1 Z"/><rect x="683.2" y="1534.3" width="3.6" height="9.8"/></g>
<g fill="#f2f2f2"><rect x="1117.5" y="1534.3" width="3.6" height="9.8"/><rect x="1128.5" y="1534.3" width="3.6" height="9.8"/><rect x="1117.5" y="1538.1" width="14.6" height="2.6"/><path d="M1134.0,1534.3 L1143.5,1534.3 Q1148.0,1534.3 1148.0,1539.2 Q1148.0,1544.1 1143.5,1544.1 L1134.0,1544.1 Z M1137.5,1537.1 L1137.5,1541.3 L1143.0,1541.3 Q1144.5,1541.3 1144.5,1539.2 Q1144.5,1537.1 1143.0,1537.1 Z" fill-rule="evenodd"/><path d="M1150.0,1544.1 L1150.0,1534.3 L1165.5,1534.3 Q1168.0,1534.3 1168.0,1536.8 L1168.0,1544.1 L1164.5,1544.1 L1164.5,1537.1 L1160.7,1537.1 L1160.7,1544.1 L1157.3,1544.1 L1157.3,1537.1 L1153.5,1537.1 L1153.5,1544.1 Z"/><rect x="1170.2" y="1534.3" width="3.6" height="9.8"/></g>
<rect x="747.5" y="1433.5" width="136.5" height="87" fill="#151515"/>
<rect x="748.6" y="1434.5" width="134.6" height="85.2" fill="#f2f2f2"/>
<path d="M748.6,1434.5 L762,1434.5 L762,1437 L750.5,1437 Z" fill="#1a1a1a"/>
<path d="M869.5,1434.5 L883.2,1434.5 L881,1437 L869.5,1437 Z" fill="#1a1a1a"/>
<rect x="762.8" y="1443.5" width="106.8" height="59" fill="#1c1c1c"/>
<rect x="757.6" y="1502.3" width="117.2" height="11" fill="#1c1c1c"/>
<rect x="765" y="1446" width="102" height="22" fill="#202020"/>
<rect x="785.0" y="1446" width="4.2" height="22" fill="#0c0c0c"/>
<rect x="789.6" y="1447" width="1" height="20" fill="#444"/>
<rect x="793.4" y="1446" width="4.2" height="22" fill="#0c0c0c"/>
<rect x="798.0" y="1447" width="1" height="20" fill="#444"/>
<rect x="801.8" y="1446" width="4.2" height="22" fill="#0c0c0c"/>
<rect x="806.4" y="1447" width="1" height="20" fill="#444"/>
<rect x="810.2" y="1446" width="4.2" height="22" fill="#0c0c0c"/>
<rect x="814.8" y="1447" width="1" height="20" fill="#444"/>
<rect x="818.6" y="1446" width="4.2" height="22" fill="#0c0c0c"/>
<rect x="823.2" y="1447" width="1" height="20" fill="#444"/>
<rect x="827.0" y="1446" width="4.2" height="22" fill="#0c0c0c"/>
<rect x="831.6" y="1447" width="1" height="20" fill="#444"/>
<rect x="835.4" y="1446" width="4.2" height="22" fill="#0c0c0c"/>
<rect x="840.0" y="1447" width="1" height="20" fill="#444"/>
<rect x="843.8" y="1446" width="4.2" height="22" fill="#0c0c0c"/>
<rect x="848.4" y="1447" width="1" height="20" fill="#444"/>
<rect x="765" y="1468" width="102" height="34" fill="#252525"/>
<rect x="791" y="1482" width="51" height="31" fill="#222" stroke="#111" stroke-width="1"/>
<rect x="798" y="1513" width="36" height="6" fill="#1c1c1c"/>
<rect x="795" y="1520" width="42" height="4" rx="2" fill="#0a0a0a"/>
<rect x="759" y="1503.5" width="24" height="8.5" fill="#2a2a2a"/><rect x="760" y="1505" width="18" height="5" fill="#a8a8a8"/>
<rect x="848" y="1503.5" width="26" height="9" fill="#1c3a1c"/><rect x="852" y="1505" width="19" height="5.5" fill="#6cd04c"/>
<circle cx="762" cy="1460" r="1.8" fill="#111"/><circle cx="870" cy="1460" r="1.8" fill="#111"/>
<circle cx="762" cy="1481" r="1.8" fill="#111"/><circle cx="870" cy="1481" r="1.8" fill="#111"/>
<g fill="none" stroke="#f2f2f2" stroke-width="1.5"><rect x="804.5" y="1404.8" width="7.5" height="5.5" rx="1"/><line x1="802" y1="1411.5" x2="814.5" y2="1411.5"/><line x1="808.2" y1="1411.5" x2="808.2" y2="1414.6"/><line x1="797.5" y1="1414.6" x2="819.8" y2="1414.6"/><line x1="801" y1="1414.6" x2="801" y2="1417.5"/><line x1="815.5" y1="1414.6" x2="815.5" y2="1417.5"/><rect x="797.8" y="1418.2" width="6.8" height="5" rx="1"/><rect x="812.2" y="1418.2" width="6.8" height="5" rx="1"/><line x1="795.8" y1="1425.2" x2="806.6" y2="1425.2"/><line x1="810.2" y1="1425.2" x2="821" y2="1425.2"/></g>
<text x="823" y="1417.8" font-size="11.8" font-weight="bold" fill="#f2f2f2" letter-spacing="-0.3">2.5G</text>
<rect x="912.2" y="1418.9" width="117.3" height="51.5" rx="5" fill="#0c0c0c"/>
<rect x="913.2" y="1419.9" width="115.3" height="49.5" rx="4" fill="#f4f4f4"/>
<rect x="916.2" y="1422.9" width="109.3" height="43.5" rx="2" fill="#2a2a2a"/>
<rect x="918.2" y="1423.9" width="105.3" height="42.5" fill="#d6d6d6"/>
<rect x="918.2" y="1423.9" width="105.3" height="3" fill="#9a9a9a"/>
<path d="M921.2,1445.9 L921.2,1431.9 Q921.2,1427.9 925.2,1427.9 L1016.5,1427.9 Q1020.5,1427.9 1020.5,1431.9 L1020.5,1445.9 Z" fill="url(#blueT)"/>
<rect x="933.70" y="1436.1000000000001" width="3.6" height="3" fill="#eaf0ff"/>
<rect x="930.20" y="1441.5" width="12" height="1.6" fill="#f4f4f4"/>
<rect x="950.90" y="1436.1000000000001" width="3.6" height="3" fill="#eaf0ff"/>
<rect x="947.40" y="1441.5" width="12" height="1.6" fill="#f4f4f4"/>
<rect x="968.10" y="1436.1000000000001" width="3.6" height="3" fill="#eaf0ff"/>
<rect x="964.60" y="1441.5" width="12" height="1.6" fill="#f4f4f4"/>
<rect x="985.30" y="1436.1000000000001" width="3.6" height="3" fill="#eaf0ff"/>
<rect x="981.80" y="1441.5" width="12" height="1.6" fill="#f4f4f4"/>
<rect x="1002.50" y="1436.1000000000001" width="3.6" height="3" fill="#eaf0ff"/>
<rect x="999.00" y="1441.5" width="12" height="1.6" fill="#f4f4f4"/>
<rect x="939.7" y="1422.6000000000001" width="9.5" height="6" fill="#25407a"/>
<rect x="991.5" y="1422.6000000000001" width="9.5" height="6" fill="#25407a"/>
<rect x="936.2" y="1445.4" width="7" height="3.5" fill="#4a4a4a"/>
<rect x="957.2" y="1445.4" width="7" height="3.5" fill="#4a4a4a"/>
<rect x="973.2" y="1445.4" width="7" height="3.5" fill="#4a4a4a"/>
<rect x="995.2" y="1445.4" width="7" height="3.5" fill="#4a4a4a"/>
<rect x="939.2" y="1458.9" width="10.5" height="7" rx="2" fill="#2c4a90"/>
<rect x="989.7" y="1458.9" width="10.5" height="7" rx="2" fill="#2c4a90"/>
<rect x="921.2" y="1450.9" width="2" height="10" fill="#333"/><rect x="1018.5" y="1450.9" width="2" height="10" fill="#333"/>
<rect x="921.2" y="1450.9" width="6" height="1.6" fill="#333"/><rect x="1014.5" y="1450.9" width="6" height="1.6" fill="#333"/>
<rect x="912.2" y="1486.8" width="117.3" height="51.5" rx="5" fill="#0c0c0c"/>
<rect x="913.2" y="1487.8" width="115.3" height="49.5" rx="4" fill="#f4f4f4"/>
<rect x="916.2" y="1490.8" width="109.3" height="43.5" rx="2" fill="#2a2a2a"/>
<rect x="918.2" y="1491.8" width="105.3" height="42.5" fill="#d6d6d6"/>
<rect x="918.2" y="1491.8" width="105.3" height="3" fill="#9a9a9a"/>
<path d="M921.2,1513.8 L921.2,1499.8 Q921.2,1495.8 925.2,1495.8 L1016.5,1495.8 Q1020.5,1495.8 1020.5,1499.8 L1020.5,1513.8 Z" fill="#1e1e1e"/>
<rect x="933.70" y="1503.6" width="3.6" height="3" fill="#f0f0f0"/>
<rect x="930.20" y="1511.3" width="12" height="1.6" fill="#f4f4f4"/>
<rect x="950.90" y="1503.6" width="3.6" height="3" fill="#f0f0f0"/>
<rect x="947.40" y="1511.3" width="12" height="1.6" fill="#f4f4f4"/>
<rect x="968.10" y="1503.6" width="3.6" height="3" fill="#f0f0f0"/>
<rect x="964.60" y="1511.3" width="12" height="1.6" fill="#f4f4f4"/>
<rect x="985.30" y="1503.6" width="3.6" height="3" fill="#f0f0f0"/>
<rect x="981.80" y="1511.3" width="12" height="1.6" fill="#f4f4f4"/>
<rect x="1002.50" y="1503.6" width="3.6" height="3" fill="#f0f0f0"/>
<rect x="999.00" y="1511.3" width="12" height="1.6" fill="#f4f4f4"/>
<rect x="939.7" y="1490.5" width="9.5" height="6" fill="#1a1a1a"/>
<rect x="991.5" y="1490.5" width="9.5" height="6" fill="#1a1a1a"/>
<rect x="936.2" y="1513.3" width="7" height="3.5" fill="#4a4a4a"/>
<rect x="957.2" y="1513.3" width="7" height="3.5" fill="#4a4a4a"/>
<rect x="973.2" y="1513.3" width="7" height="3.5" fill="#4a4a4a"/>
<rect x="995.2" y="1513.3" width="7" height="3.5" fill="#4a4a4a"/>
<rect x="939.2" y="1526.8" width="10.5" height="7" rx="2" fill="#222"/>
<rect x="989.7" y="1526.8" width="10.5" height="7" rx="2" fill="#222"/>
<rect x="921.2" y="1518.8" width="2" height="10" fill="#333"/><rect x="1018.5" y="1518.8" width="2" height="10" fill="#333"/>
<rect x="921.2" y="1518.8" width="6" height="1.6" fill="#333"/><rect x="1014.5" y="1518.8" width="6" height="1.6" fill="#333"/>
<text transform="translate(1033.3,1449) scale(0.95,1)" font-size="17.9" font-weight="bold" font-style="italic" fill="#f2f2f2" stroke="#f2f2f2" stroke-width="0.5">SS</text>
<g transform="translate(1055.2,1442.6) scale(1.33)" fill="#f2f2f2" stroke="#f2f2f2"><path d="M0,0 L17,0" stroke-width="1.3" fill="none"/><path d="M17,-2.2 L21,0 L17,2.2 Z" stroke="none"/><path d="M3,0 C5,-3 6,-4.5 9,-4.5 L11,-4.5" stroke-width="1.3" fill="none"/><circle cx="12" cy="-4.6" r="1.8" stroke="none"/><path d="M5,0 C7,3 8,4.5 11,4.5 L13,4.5" stroke-width="1.3" fill="none"/><rect x="12.5" y="2.8" width="3.4" height="3.4" stroke="none"/></g>
<text x="1072.2" y="1436.3" font-size="11.6" font-weight="bold" fill="#f2f2f2">10</text>
<circle cx="1035" cy="1510.9" r="2.6" fill="#f2f2f2"/>
<g transform="translate(1035,1510.9) scale(1.65)" fill="#f2f2f2" stroke="#f2f2f2"><path d="M0,0 L17,0" stroke-width="1.3" fill="none"/><path d="M17,-2.2 L21,0 L17,2.2 Z" stroke="none"/><path d="M3,0 C5,-3 6,-4.5 9,-4.5 L11,-4.5" stroke-width="1.3" fill="none"/><circle cx="12" cy="-4.6" r="1.8" stroke="none"/><path d="M5,0 C7,3 8,4.5 11,4.5 L13,4.5" stroke-width="1.3" fill="none"/><rect x="12.5" y="2.8" width="3.4" height="3.4" stroke="none"/></g>
<line x1="597.7" y1="1229.2" x2="597.7" y2="1297" stroke="#000" stroke-width="1.4"/>
<line x1="662.4" y1="1103.5" x2="662.4" y2="1296" stroke="#000" stroke-width="1.4"/>
<line x1="808.7" y1="1229.4" x2="808.7" y2="1296" stroke="#000" stroke-width="1.4"/>
<line x1="900.5" y1="1103.5" x2="900.5" y2="1296" stroke="#000" stroke-width="1.4"/>
<line x1="1015.3" y1="1229.3" x2="1015.3" y2="1296" stroke="#000" stroke-width="1.4"/>
<line x1="1181.7" y1="1102.5" x2="1181.7" y2="1296" stroke="#000" stroke-width="1.4"/>
<line x1="282.2" y1="1496.2" x2="383" y2="1496.2" stroke="#000" stroke-width="1.4"/>
<line x1="1318.5" y1="1510.4" x2="1370.7" y2="1510.4" stroke="#000" stroke-width="1.4"/>
<line x1="597.7" y1="1296" x2="597.7" y2="1497" stroke="#fff" stroke-width="1.4"/>
<line x1="662.4" y1="1296" x2="662.4" y2="1415.6" stroke="#fff" stroke-width="1.4"/>
<line x1="808.7" y1="1296" x2="808.7" y2="1399.2" stroke="#fff" stroke-width="1.4"/>
<line x1="900.5" y1="1296" x2="900.5" y2="1509.2" stroke="#fff" stroke-width="1.4"/>
<line x1="899.7" y1="1508.5" x2="912" y2="1508.5" stroke="#fff" stroke-width="1.4"/>
<line x1="1015.3" y1="1296" x2="1015.3" y2="1419.7" stroke="#fff" stroke-width="1.4"/>
<line x1="1181.7" y1="1296" x2="1181.7" y2="1416" stroke="#fff" stroke-width="1.4"/>
<line x1="382.5" y1="1496.2" x2="493.6" y2="1496.2" stroke="#fff" stroke-width="1.4"/>
<line x1="1214" y1="1510.4" x2="1318.5" y2="1510.4" stroke="#fff" stroke-width="1.4"/>
<text transform="translate(198.00,159.60) scale(1.0003,1.0100)" font-weight="bold" font-size="85.0" fill="#000">Versatile connectivity options to</text>
<text transform="translate(259.39,275.50) scale(0.9998,1.0100)" font-weight="bold" font-size="85.0" fill="#000">meet all your everyday needs</text>
<text transform="translate(582.82,437.20) scale(0.9946,1.0700)" font-weight="normal" font-size="36.0" fill="#000">2 x USB 3.2 Gen</text>
<text transform="translate(644.01,479.50) scale(1.0011,1.0700)" font-weight="normal" font-size="36.0" fill="#000">2 Type-A</text>
<text transform="translate(1116.09,436.90) scale(0.9996,1.0700)" font-weight="normal" font-size="36.0" fill="#000">Power Button</text>
<text transform="translate(861.11,529.50) scale(0.9917,1.0700)" font-weight="normal" font-size="36.0" fill="#000">Headphone jack</text>
<text transform="translate(1388.08,795.50) scale(0.9920,1.0700)" font-weight="normal" font-size="36.0" fill="#000">SD Card Slot</text>
<text transform="translate(521.02,1048.80) scale(0.9938,1.0700)" font-weight="bold" font-size="36.0" fill="url(#og0)">USB 3.2 Gen 2</text>
<text transform="translate(583.60,1091.40) scale(0.9841,1.0700)" font-weight="bold" font-size="36.0" fill="url(#og1)">Type-C</text>
<text transform="translate(833.77,1048.90) scale(0.9930,1.0700)" font-weight="normal" font-size="36.0" fill="#000">USB 2.0</text>
<text transform="translate(844.15,1091.50) scale(0.9806,1.0700)" font-weight="normal" font-size="36.0" fill="#000">Type-A</text>
<text transform="translate(1080.33,1048.80) scale(0.9897,1.0700)" font-weight="bold" font-size="36.0" fill="url(#og2)">USB3.2 Gen2</text>
<text transform="translate(1132.30,1091.90) scale(0.9800,1.0700)" font-weight="bold" font-size="36.0" fill="url(#og3)">Type-C</text>
<text transform="translate(700.21,1173.60) scale(0.9992,1.0700)" font-weight="normal" font-size="36.0" fill="#000">2.5G RJ45</text>
<text transform="translate(715.20,1213.60) scale(0.9944,1.0700)" font-weight="normal" font-size="36.0" fill="#000">LAN port</text>
<text transform="translate(923.57,1173.60) scale(0.9923,1.0700)" font-weight="normal" font-size="36.0" fill="#000">USB 3.2 Gen 2</text>
<text transform="translate(986.04,1214.10) scale(0.9918,1.0700)" font-weight="normal" font-size="36.0" fill="#000">Type-A</text>
<text transform="translate(472.70,1221.50) scale(0.9958,1.0700)" font-weight="normal" font-size="36.0" fill="#000">HDMI 2.0</text>
<text transform="translate(136.01,1508.50) scale(0.9914,1.0700)" font-weight="normal" font-size="36.0" fill="#000">DC jack</text>
<text transform="translate(1385.12,1526.60) scale(0.9897,1.0700)" font-weight="normal" font-size="36.0" fill="#000">HDMI 2.0</text>
</svg>
</body></html>
